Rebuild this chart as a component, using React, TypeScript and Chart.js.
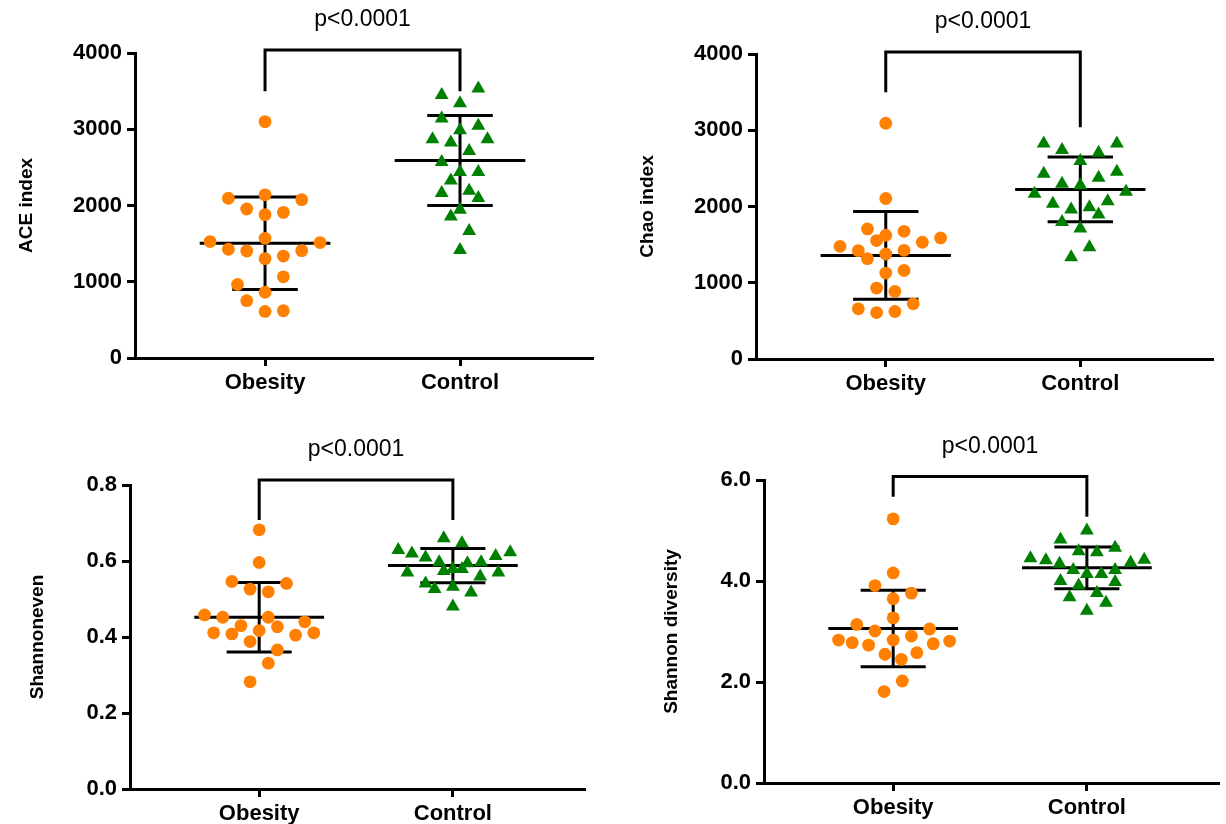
import React, { useEffect, useRef } from 'react';
import { Chart, registerables } from 'chart.js';

Chart.register(...registerables);

const groupLabels = ['Obesity', 'Control'];
const pLabel = 'p<0.0001';

// ---- ACE index ----
const aceObesity = [3100, 2095, 2140, 2077, 1954, 1880, 1910, 1570, 1527, 1514, 1426, 1403, 1408, 1337, 1303, 1065, 964, 862, 752, 611, 620];
const aceObesityCol = [0, -4, 0, 4, -2, 0, 2, 0, -6, 6, -4, -2, 4, 2, 0, 2, -3, 0, -2, 0, 2];
const aceControl = [3534, 3450, 3340, 3142, 3045, 2988, 2869, 2869, 2825, 2715, 2570, 2438, 2438, 2328, 2165, 2195, 2099, 1945, 1857, 1667, 1416];
const aceControlCol = [2, -2, 0, -2, 2, 0, -3, 3, -1, 1, -2, 0, 2, -1, -2, 1, 2, 0, -1, 1, 0];
const aceMean = [1505, 2590];
const aceSd = [605, 590];
const aceBracket = [4040, 3500, 3500];

// ---- Chao index ----
const chaoObesity = [3092, 2105, 1706, 1675, 1623, 1553, 1588, 1531, 1478, 1421, 1425, 1377, 1316, 1127, 1162, 930, 886, 724, 658, 609, 623];
const chaoObesityCol = [0, 0, -2, 2, 0, -1, 6, 4, -5, -3, 2, 0, -2, 0, 2, -1, 1, 3, -3, -1, 1];
const chaoControl = [2825, 2825, 2741, 2706, 2596, 2430, 2456, 2377, 2298, 2280, 2167, 2193, 2035, 2070, 1960, 1991, 1895, 1798, 1711, 1465, 1333];
const chaoControlCol = [-4, 4, -2, 2, 0, -4, 4, 2, -2, 0, -5, 5, -3, 3, -1, 1, 2, -2, 0, 1, -1];
const chaoMean = [1359, 2224];
const chaoSd = [575, 424];
const chaoBracket = [4026, 3500, 3040];

// ---- Shannoneven ----
const evenObesity = [0.682, 0.596, 0.546, 0.541, 0.526, 0.519, 0.458, 0.452, 0.452, 0.43, 0.427, 0.44, 0.411, 0.408, 0.417, 0.405, 0.411, 0.388, 0.366, 0.331, 0.282];
const evenObesityCol = [0, 0, -3, 3, -1, 1, -6, -4, 1, -2, 2, 5, -5, -3, 0, 4, 6, -1, 2, 1, -1];
const evenControl = [0.66, 0.647, 0.629, 0.62, 0.609, 0.623, 0.613, 0.597, 0.594, 0.597, 0.579, 0.574, 0.579, 0.57, 0.57, 0.559, 0.541, 0.526, 0.532, 0.517, 0.48];
const evenControlCol = [-1, 1, -6, -4.5, -3, 6.3, 4.7, -1.5, 1.6, 3.1, 0, -1, 1, -5, 5, 3, -3, -2, 0, 2, 0];
const evenMean = [0.452, 0.588];
const evenSd = [0.0915, 0.045];
const evenBracket = [0.813, 0.708, 0.708];

// ---- Shannon diversity ----
const divObesity = [5.23, 4.16, 3.91, 3.76, 3.65, 3.27, 3.14, 3.05, 3.01, 2.83, 2.78, 2.83, 2.91, 2.73, 2.76, 2.81, 2.55, 2.58, 2.45, 2.02, 1.81];
const divObesityCol = [0, 0, -2, 2, 0, 0, -4, 4, -2, -6, -4.5, 0, 2, -2.7, 4.4, 6.2, -0.9, 2.6, 0.9, 1, -1];
const divControl = [5.0, 4.82, 4.59, 4.57, 4.66, 4.45, 4.41, 4.34, 4.36, 4.42, 4.22, 4.22, 4.14, 4.14, 4.0, 3.98, 3.91, 3.76, 3.68, 3.57, 3.41];
const divControlCol = [0, -2.9, -0.9, 1.1, 3.1, -6.2, -4.5, -3, 4.8, 6.3, -1.5, 3.1, 0, 1.6, -2.9, 3.1, -0.9, 1.1, -1.9, 2.1, 0];
const divMean = [3.06, 4.26];
const divSd = [0.757, 0.415];
const divBracket = [6.07, 5.67, 5.27];

const ORANGE = '#ff8000';
const GREEN = '#008000';
const FONT = "'Liberation Sans', Arial, Helvetica, sans-serif";
const JITTER = 0.047;
const MEAN_HALF = 0.335;
const CAP_HALF = 0.168;

type Panel = {
  key: string;
  left: number; top: number; width: number; height: number;
  yAxisWidth: number; xAxisHeight: number; padTop: number; padRight: number;
  yMax: number; yStep: number; decimals: number;
  title: string; titlePad: number;
  obesity: number[]; obesityCol: number[];
  control: number[]; controlCol: number[];
  mean: number[]; sd: number[]; bracket: number[];
};

const panels: Panel[] = [
  { key: 'ace', left: 0, top: 0, width: 613, height: 412, yAxisWidth: 135, xAxisHeight: 54, padTop: 53, padRight: 21,
    yMax: 4000, yStep: 1000, decimals: 0, title: 'ACE index', titlePad: 15.6,
    obesity: aceObesity, obesityCol: aceObesityCol, control: aceControl, controlCol: aceControlCol,
    mean: aceMean, sd: aceSd, bracket: aceBracket },
  { key: 'chao', left: 613, top: 0, width: 613, height: 412, yAxisWidth: 143, xAxisHeight: 53, padTop: 54, padRight: 14,
    yMax: 4000, yStep: 1000, decimals: 0, title: 'Chao index', titlePad: 23.6,
    obesity: chaoObesity, obesityCol: chaoObesityCol, control: chaoControl, controlCol: chaoControlCol,
    mean: chaoMean, sd: chaoSd, bracket: chaoBracket },
  { key: 'even', left: 0, top: 412, width: 613, height: 412, yAxisWidth: 130, xAxisHeight: 35, padTop: 73, padRight: 29,
    yMax: 0.8, yStep: 0.2, decimals: 1, title: 'Shannoneven', titlePad: 26.6,
    obesity: evenObesity, obesityCol: evenObesityCol, control: evenControl, controlCol: evenControlCol,
    mean: evenMean, sd: evenSd, bracket: evenBracket },
  { key: 'div', left: 613, top: 412, width: 613, height: 412, yAxisWidth: 151, xAxisHeight: 41, padTop: 68, padRight: 8,
    yMax: 6, yStep: 2, decimals: 1, title: 'Shannon diversity', titlePad: 47.6,
    obesity: divObesity, obesityCol: divObesityCol, control: divControl, controlCol: divControlCol,
    mean: divMean, sd: divSd, bracket: divBracket },
];

function PanelChart({ p }: { p: Panel }) {
  const ref = useRef<HTMLCanvasElement | null>(null);
  useEffect(() => {
    if (!ref.current) return;
    const overlay = {
      id: 'overlay-' + p.key,
      beforeDatasetsDraw(chart: any) {
        const { ctx } = chart;
        const xs = chart.scales.x;
        const ys = chart.scales.y;
        ctx.save();
        ctx.strokeStyle = '#000';
        ctx.lineWidth = 3;
        ctx.lineCap = 'butt';
        const seg = (x1: number, y1: number, x2: number, y2: number) => {
          ctx.beginPath();
          ctx.moveTo(xs.getPixelForValue(x1), ys.getPixelForValue(y1));
          ctx.lineTo(xs.getPixelForValue(x2), ys.getPixelForValue(y2));
          ctx.stroke();
        };
        p.mean.forEach((m, i) => {
          const cx = i + 1;
          const s = p.sd[i];
          seg(cx, m - s, cx, m + s);
          seg(cx - MEAN_HALF, m, cx + MEAN_HALF, m);
          seg(cx - CAP_HALF, m + s, cx + CAP_HALF, m + s);
          seg(cx - CAP_HALF, m - s, cx + CAP_HALF, m - s);
        });
        ctx.restore();
      },
      afterDraw(chart: any) {
        const { ctx } = chart;
        const xs = chart.scales.x;
        const ys = chart.scales.y;
        const [top, legL, legR] = p.bracket;
        const x1 = xs.getPixelForValue(1);
        const x2 = xs.getPixelForValue(2);
        const yt = ys.getPixelForValue(top);
        ctx.save();
        ctx.strokeStyle = '#000';
        ctx.lineWidth = 3;
        ctx.lineJoin = 'miter';
        ctx.beginPath();
        ctx.moveTo(x1, ys.getPixelForValue(legL));
        ctx.lineTo(x1, yt);
        ctx.lineTo(x2, yt);
        ctx.lineTo(x2, ys.getPixelForValue(legR));
        ctx.stroke();
        ctx.fillStyle = '#000';
        ctx.font = `23px ${FONT}`;
        ctx.textAlign = 'center';
        ctx.textBaseline = 'middle';
        ctx.fillText(pLabel, (x1 + x2) / 2, yt - 30);
        ctx.restore();
      },
    };
    const chart = new Chart(ref.current, {
      type: 'scatter',
      data: {
        datasets: [
          {
            label: groupLabels[0],
            data: p.obesity.map((v, i) => ({ x: 1 + p.obesityCol[i] * JITTER, y: v })),
            pointStyle: 'circle',
            pointRadius: 6.4,
            pointBorderWidth: 0,
            backgroundColor: ORANGE,
            borderColor: ORANGE,
          },
          {
            label: groupLabels[1],
            data: p.control.map((v, i) => ({ x: 2 + p.controlCol[i] * JITTER, y: v })),
            pointStyle: 'triangle',
            pointRadius: 8,
            pointBorderWidth: 0,
            backgroundColor: GREEN,
            borderColor: GREEN,
          },
        ],
      },
      options: {
        animation: false,
        responsive: false,
        devicePixelRatio: 1,
        layout: { padding: { top: p.padTop, right: p.padRight, left: 0, bottom: 0 } },
        plugins: { legend: { display: false }, tooltip: { enabled: false } },
        scales: {
          x: {
            type: 'linear',
            min: 0.333,
            max: 2.677,
            afterBuildTicks: (scale: any) => {
              scale.ticks = [{ value: 1 }, { value: 2 }];
            },
            afterFit: (scale: any) => {
              scale.height = p.xAxisHeight;
            },
            ticks: {
              callback: (v: any) => groupLabels[Math.round(Number(v)) - 1] ?? '',
              color: '#000',
              font: { family: FONT, size: 22, weight: 'bold' },
              padding: 4,
              maxRotation: 0,
              autoSkip: false,
            },
            grid: { display: true, drawOnChartArea: false, drawTicks: true, tickLength: 8, color: '#000', lineWidth: 3 },
            border: { display: true, color: '#000', width: 3 },
          },
          y: {
            type: 'linear',
            min: 0,
            max: p.yMax,
            afterFit: (scale: any) => {
              scale.width = p.yAxisWidth;
            },
            ticks: {
              stepSize: p.yStep,
              callback: (v: any) => Number(v).toFixed(p.decimals),
              color: '#000',
              font: { family: FONT, size: 22, weight: 'bold' },
              padding: 5,
            },
            grid: { display: true, drawOnChartArea: false, drawTicks: true, tickLength: 8, color: '#000', lineWidth: 3 },
            border: { display: true, color: '#000', width: 3 },
            title: {
              display: true,
              text: p.title,
              color: '#000',
              font: { family: FONT, size: 19, weight: 'bold', lineHeight: 1.2 },
              padding: { top: p.titlePad, bottom: 0 },
            },
          },
        },
      },
      plugins: [overlay],
    } as any);
    return () => chart.destroy();
  }, [p]);
  return (
    <div style={{ position: 'absolute', left: p.left, top: p.top, width: p.width, height: p.height }}>
      <canvas ref={ref} width={p.width} height={p.height} style={{ display: 'block', width: p.width, height: p.height }} />
    </div>
  );
}

export default function App() {
  return (
    <div style={{ position: 'absolute', left: 0, top: 0, width: 1226, height: 824, background: '#fff', overflow: 'hidden' }}>
      {panels.map((p) => (
        <PanelChart key={p.key} p={p} />
      ))}
    </div>
  );
}
